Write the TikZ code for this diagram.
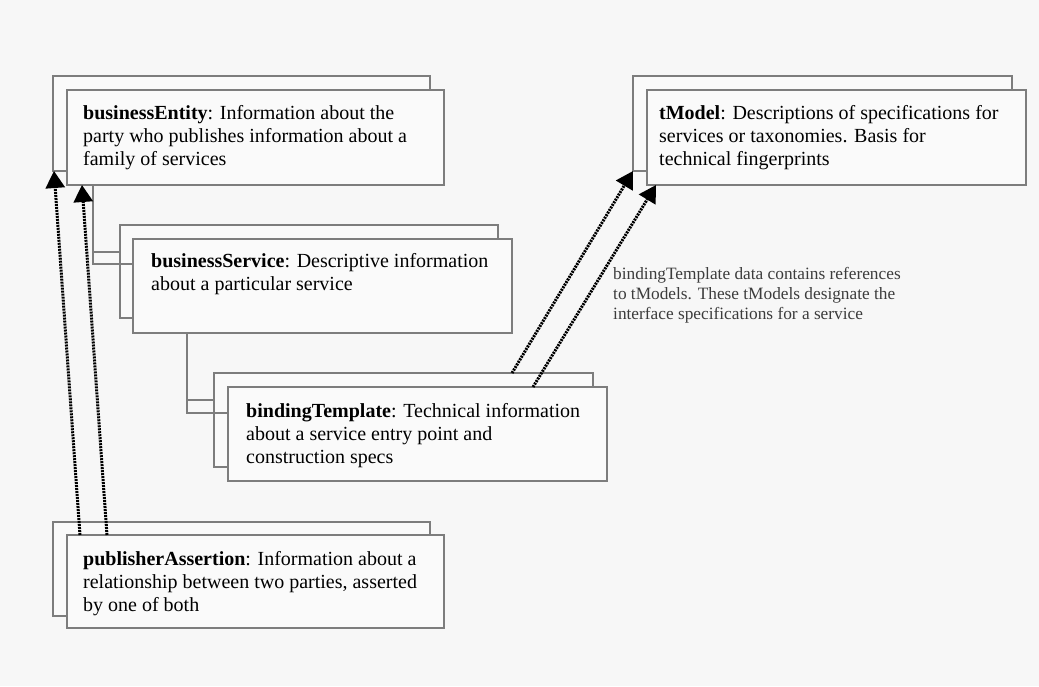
\documentclass[tikz,border=0pt]{standalone}
\usepackage{fontspec}
\setmainfont{Liberation Serif}
\usetikzlibrary{arrows.meta,calc}
\definecolor{paper}{RGB}{247,247,247}
\definecolor{boxfill}{RGB}{250,250,250}
\definecolor{edge}{RGB}{125,125,125}
\definecolor{notecol}{RGB}{60,60,60}
\begin{document}
\begin{tikzpicture}[x=1pt,y=-1pt,
  card/.style={draw=edge, fill=boxfill, line width=1.2pt, rectangle,
    inner sep=0pt, outer sep=0pt, anchor=north west},
  cardtext/.style={anchor=north west, inner sep=0pt, align=left,
    font=\fontsize{20}{23}\selectfont, text=black},
  notetext/.style={anchor=north west, inner sep=0pt, align=left,
    font=\fontsize{17.3}{20}\selectfont, text=notecol},
  tree/.style={draw=edge, line width=1.2pt},
  ref/.style={draw=black, line width=3pt, dash pattern=on 2pt off 1pt,
    -{Triangle[length=17pt,width=19pt]}}
]
% canvas
\fill[paper] (0,0) rectangle (1039,686);
\useasboundingbox (0,0) rectangle (1039,686);

% businessEntity
\node[card, minimum width=377pt, minimum height=95pt] (beBack) at (53,76) {};
\node[card, minimum width=377pt, minimum height=95pt] (beFront) at (67,90) {};
% tModel
\node[card, minimum width=379pt, minimum height=95pt] (tmBack) at (633,76) {};
\node[card, minimum width=379pt, minimum height=95pt] (tmFront) at (647,90) {};
% businessService
\node[card, minimum width=378pt, minimum height=93pt] (bsBack) at (120,225) {};
\node[card, minimum width=379pt, minimum height=94pt] (bsFront) at (133,239) {};
% bindingTemplate
\node[card, minimum width=379pt, minimum height=94pt] (btBack) at (214,373) {};
\node[card, minimum width=379pt, minimum height=94pt] (btFront) at (228,387) {};
% publisherAssertion
\node[card, minimum width=377pt, minimum height=94pt] (paBack) at (53,522) {};
\node[card, minimum width=377pt, minimum height=93pt] (paFront) at (67,535) {};

% containment lines
\coordinate (beStem) at ($(beFront.south west)+(26,0)$);
\draw[tree] (beStem) |- ($(bsFront.north west)+(0,25)$);
\draw[tree] ($(beStem)+(0,67)$) -- ($(bsBack.north west)+(0,27)$);
\coordinate (bsStem) at ($(bsFront.south west)+(54,0)$);
\draw[tree] (bsStem) |- ($(btFront.north west)+(0,26)$);
\draw[tree] ($(bsStem)+(0,67)$) -- ($(btBack.north west)+(0,27)$);

% texts
\node[cardtext] (beText) at ($(beFront.north west)+(16,15)$)
  {\textbf{businessEntity}: Information about the\\party who publishes information about a\\family of services};
\node[cardtext] (tmText) at ($(tmFront.north west)+(12,15)$)
  {\textbf{tModel}: Descriptions of specifications for\\services or taxonomies. Basis for\\technical fingerprints};
\node[cardtext] (bsText) at ($(bsFront.north west)+(18,14)$)
  {\textbf{businessService}: Descriptive information\\about a particular service};
\node[cardtext] (btText) at ($(btFront.north west)+(18,16)$)
  {\textbf{bindingTemplate}: Technical information\\about a service entry point and\\construction specs};
\node[cardtext] (paText) at ($(paFront.north west)+(16,16)$)
  {\textbf{publisherAssertion}: Information about a\\relationship between two parties, asserted\\by one of both};
\node[notetext] (refNote) at (613,267)
  {bindingTemplate data contains references\\to tModels. These tModels designate the\\interface specifications for a service};

% references
\coordinate (paOut1) at ($(paFront.north west)+(13,0)$);
\coordinate (paOut2) at ($(paFront.north west)+(40,0)$);
\draw[ref] (paOut1) -- ($(beBack.south west)+(1,0)$);
\draw[ref] (paOut2) -- ($(beFront.south west)+(15,0)$);
\coordinate (btOut1) at ($(btBack.north west)+(298,0)$);
\coordinate (btOut2) at ($(btFront.north west)+(305,0)$);
\draw[ref] (btOut1) -- (tmBack.south west);
\draw[ref] (btOut2) -- ($(tmFront.south west)+(9,0)$);
\end{tikzpicture}
\end{document}
